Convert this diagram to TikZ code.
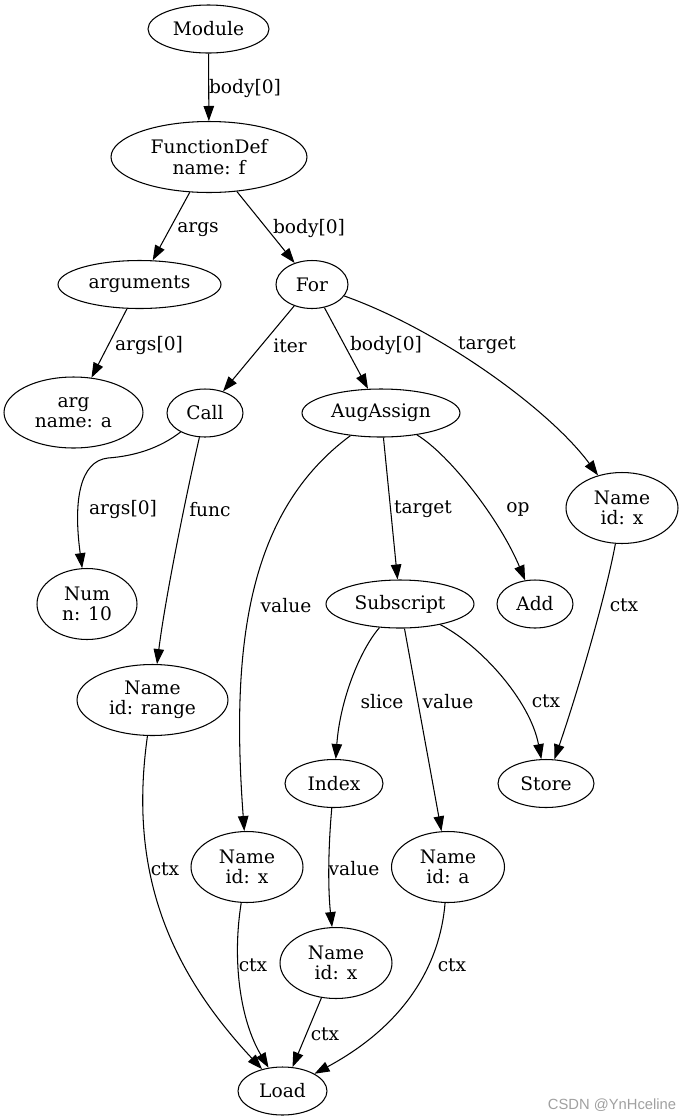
\documentclass[tikz,border=0pt]{standalone}
\usepackage{fontspec}
\setmainfont{DejaVu Serif}
\newfontfamily\markfont{Liberation Sans}
\usetikzlibrary{shapes.geometric,arrows.meta}
\definecolor{ink}{HTML}{000000}
\definecolor{mark}{HTML}{A0A0A0}
\newcommand{\astfont}{\fontsize{10.6}{11.5}\selectfont}

\begin{document}
\begin{tikzpicture}[x=0.02cm,y=-0.02cm,
    ast/.style={draw=ink,ellipse,line width=0.6pt,inner sep=0pt,align=center,font=\astfont,minimum height=0.96cm},
    tall/.style={minimum height=1.42cm},
    link/.style={draw=ink,line width=0.6pt,-{Triangle[length=0.3cm,width=0.21cm]}},
    lbl/.style={font=\astfont,inner sep=0pt,yshift=-0.05cm}]
  \useasboundingbox (0,0) rectangle (683,1120);

  \node[ast,minimum width=2.42cm] (mod) at (208.5,29) {Module};
  \node[ast,tall,minimum width=3.92cm] (fdef) at (209,157) {FunctionDef\\name: f};
  \node[ast,minimum width=3.26cm] (argus) at (139.5,284.5) {arguments};
  \node[ast,minimum width=1.44cm] (for) at (312,284.5) {For};
  \node[ast,tall,minimum width=2.78cm] (arg) at (73.5,412.5) {arg\\name: a};
  \node[ast,minimum width=1.52cm] (call) at (205,413) {Call};
  \node[ast,minimum width=3.16cm] (aug) at (381,413) {AugAssign};
  \node[ast,tall,minimum width=2.24cm] (namexr) at (622,508) {Name\\id: x};
  \node[ast,tall,minimum width=2.0cm] (num) at (87,604) {Num\\n: 10};
  \node[ast,minimum width=2.96cm] (subs) at (400,604) {Subscript};
  \node[ast,minimum width=1.52cm] (add) at (535,604) {Add};
  \node[ast,tall,minimum width=3.02cm] (range) at (152.5,700) {Name\\id: range};
  \node[ast,minimum width=1.96cm] (index) at (334,783.5) {Index};
  \node[ast,minimum width=1.92cm] (store) at (546,783.5) {Store};
  \node[ast,tall,minimum width=2.24cm] (namexm) at (247,867) {Name\\id: x};
  \node[ast,tall,minimum width=2.26cm] (namea) at (448,867) {Name\\id: a};
  \node[ast,tall,minimum width=2.24cm] (namexl) at (336,963) {Name\\id: x};
  \node[ast,minimum width=1.78cm] (load) at (282.5,1091) {Load};

  \draw[link] (mod) -- (fdef) node[lbl] at (245,86) {body[0]};
  \draw[link] (fdef) -- (argus) node[lbl] at (198,227) {args};
  \draw[link] (fdef) -- (for) node[lbl] at (309,226) {body[0]};
  \draw[link] (argus) -- (arg) node[lbl] at (149,343) {args[0]};
  \draw[link] (for) -- (call) node[lbl] at (290,343) {iter};
  \draw[link] (for) -- (aug) node[lbl] at (386,343) {body[0]};
  \draw[link] (for) .. controls (440,330) and (550,410) .. (namexr) node[lbl] at (487,343) {target};
  \draw[link] (call) .. controls (160,448) and (135,456) .. (108,458) .. controls (80,461) and (73,500) .. (num) node[lbl] at (123,507) {args[0]};
  \draw[link] (call) .. controls (185,500) and (165,600) .. (range) node[lbl] at (210,507) {func};
  \draw[link] (aug) .. controls (250,510) and (230,640) .. (namexm) node[lbl] at (286,603) {value};
  \draw[link] (aug) -- (subs) node[lbl] at (423,507) {target};
  \draw[link] (aug) .. controls (450,455) and (500,520) .. (add) node[lbl] at (518,507) {op};
  \draw[link] (namexr) .. controls (605,600) and (575,700) .. (store) node[lbl] at (624,603) {ctx};
  \draw[link] (subs) .. controls (360,650) and (340,700) .. (index) node[lbl] at (382,699) {slice};
  \draw[link] (subs) -- (namea) node[lbl] at (448,699) {value};
  \draw[link] (subs) .. controls (480,645) and (530,700) .. (store) node[lbl] at (546,699) {ctx};
  \draw[link] (range) .. controls (130,860) and (160,960) .. (load) node[lbl] at (165,867) {ctx};
  \draw[link] (index) .. controls (328,850) and (328,890) .. (namexl) node[lbl] at (354,866) {value};
  \draw[link] (namexm) .. controls (232,960) and (240,1020) .. (load) node[lbl] at (253,963) {ctx};
  \draw[link] (namea) .. controls (440,965) and (405,1025) .. (load) node[lbl] at (452,963) {ctx};
  \draw[link] (namexl) -- (load) node[lbl] at (325,1032) {ctx};

  \node[font=\markfont\fontsize{8.4}{10}\selectfont,text=mark,inner sep=0pt] (wmark) at (612,1105) {CSDN @YnHceline};
\end{tikzpicture}
\end{document}
